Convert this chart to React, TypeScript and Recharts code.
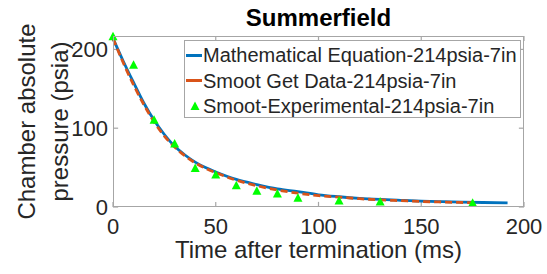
import React from 'react';
import { ComposedChart, Line, Scatter, XAxis, YAxis, Legend, ReferenceLine } from 'recharts';

const mathTime = [0, 5, 10, 15, 20, 25, 30, 35, 40, 45, 50, 60, 70, 80, 90, 100, 110, 120, 130, 140, 150, 160, 170, 180, 192];
const mathPressure = [214, 185, 158, 132, 110, 92, 77, 66, 57, 50, 44.5, 35, 28.5, 23, 19.5, 15.5, 13, 11, 9.6, 8.5, 7.5, 6.8, 6.2, 5.7, 5.2];

const getDataTime = [0, 5, 10, 15, 20, 25, 30, 35, 40, 45, 50, 60, 70, 80, 90, 100, 110, 120, 130, 140, 150, 160, 170, 177];
const getDataPressure = [214, 183, 155, 130, 108, 90, 76, 65, 56, 49, 43.5, 34, 27, 21.5, 17.5, 14.5, 12.5, 10.5, 9, 8, 7, 6.3, 5.7, 5.3];

const expTime = [0, 10, 20, 30, 40, 50, 60, 70, 80, 90, 110, 130, 175];
const expPressure = [216, 180, 110, 80, 49, 40.5, 27, 20, 16.5, 11, 7.6, 6.3, 4.7];

const xTicks = [0, 50, 100, 150, 200];
const yTicks = [0, 100, 200];
const xDomain = [0, 200];
const yDomain = [0, 217];

const seriesNames = [
  'Mathematical Equation-214psia-7in',
  'Smoot Get Data-214psia-7in',
  'Smoot-Experimental-214psia-7in',
];

const mathData = mathTime.map((x, i) => ({ x, y: mathPressure[i] }));
const getData = getDataTime.map((x, i) => ({ x, y: getDataPressure[i] }));
const expData = expTime.map((x, i) => ({ x, y: expPressure[i] }));

const FONT = '"Liberation Sans", Arial, sans-serif';
const TEXT = '#262626';
const AXIS = '#a6a6a6';
const BLUE = '#0072BD';
const ORANGE = '#D95319';
const GREEN = '#00ff00';

const CHART_W = 547;
const CHART_H = 274;
const MARGIN = { top: 36, right: 23, bottom: 0, left: 0 };
const Y_AXIS_W = 113;
const X_AXIS_H = 67;

// inward tick mark lengths, in data units (~5px)
const X_TICK_LEN = 6.5;
const Y_TICK_LEN = 2.5;

const Triangle = (props: any) => {
  const { cx, cy } = props;
  if (cx == null || cy == null) return null;
  return (
    <polygon
      points={`${cx},${cy - 5} ${cx - 4.5},${cy + 3.5} ${cx + 4.5},${cy + 3.5}`}
      fill={GREEN}
    />
  );
};

const LegendBox = () => (
  <div
    style={{
      position: 'relative',
      width: 337,
      height: 78,
      boxSizing: 'border-box',
      border: `1px solid ${AXIS}`,
      background: '#fff',
      fontFamily: FONT,
      fontSize: 20,
      color: TEXT,
    }}
  >
    {seriesNames.map((name, i) => (
      <div
        key={name}
        style={{
          position: 'absolute',
          left: 0,
          top: 1 + i * 25.6,
          height: 26,
          lineHeight: '26px',
          width: '100%',
          whiteSpace: 'nowrap',
        }}
      >
        {i < 2 ? (
          <div
            style={{
              position: 'absolute',
              left: 1,
              top: 11.5,
              width: 16,
              height: 3,
              background: i === 0 ? BLUE : ORANGE,
            }}
          />
        ) : (
          <svg style={{ position: 'absolute', left: 4, top: 7 }} width={12} height={12}>
            <polygon points="6,1.5 1.5,10 10.5,10" fill={GREEN} />
          </svg>
        )}
        <span style={{ position: 'absolute', left: 18, top: 0 }}>{name}</span>
      </div>
    ))}
  </div>
);

const Texts = () => (
  <g fontFamily={FONT}>
    <text x={318.5} y={26} textAnchor="middle" fontWeight="bold" fontSize={24} fill="#000">
      Summerfield
    </text>
    <text x={318.5} y={258} textAnchor="middle" fontSize={24} fill={TEXT}>
      Time after termination (ms)
    </text>
    <text transform="translate(35,121.5) rotate(-90)" textAnchor="middle" fontSize={24} fill={TEXT}>
      Chamber absolute
    </text>
    <text transform="translate(68,121.5) rotate(-90)" textAnchor="middle" fontSize={24} fill={TEXT}>
      pressure (psia)
    </text>
  </g>
);

const tickSegs: { key: string; seg: { x: number; y: number }[] }[] = [];
xTicks.forEach((t) => {
  tickSegs.push({ key: `xb${t}`, seg: [{ x: t, y: yDomain[0] }, { x: t, y: yDomain[0] + X_TICK_LEN }] });
  tickSegs.push({ key: `xt${t}`, seg: [{ x: t, y: yDomain[1] }, { x: t, y: yDomain[1] - X_TICK_LEN }] });
});
yTicks.forEach((t) => {
  tickSegs.push({ key: `yl${t}`, seg: [{ x: xDomain[0], y: t }, { x: xDomain[0] + Y_TICK_LEN, y: t }] });
  tickSegs.push({ key: `yr${t}`, seg: [{ x: xDomain[1], y: t }, { x: xDomain[1] - Y_TICK_LEN, y: t }] });
});

export default function App() {
  const plotLeft = MARGIN.left + Y_AXIS_W;
  const plotTop = MARGIN.top;
  const plotW = CHART_W - plotLeft - MARGIN.right;
  const plotH = CHART_H - plotTop - MARGIN.bottom - X_AXIS_H;
  return (
    <div style={{ position: 'absolute', left: 0, top: 0, width: CHART_W, height: CHART_H, background: '#fff' }}>
      <ComposedChart width={CHART_W} height={CHART_H} margin={MARGIN}>
        {tickSegs.map((t) => (
          <ReferenceLine
            key={t.key}
            segment={t.seg}
            stroke={AXIS}
            strokeWidth={1.2}
            ifOverflow="visible"
          />
        ))}
        <XAxis
          type="number"
          dataKey="x"
          domain={xDomain}
          ticks={xTicks}
          height={X_AXIS_H}
          axisLine={false}
          tickLine={false}
          tickSize={0}
          tickMargin={11}
          tick={{ fill: TEXT, fontSize: 22, fontFamily: FONT }}
        />
        <YAxis
          type="number"
          domain={yDomain}
          ticks={yTicks}
          width={Y_AXIS_W}
          axisLine={false}
          tickLine={false}
          tickSize={0}
          tickMargin={5}
          tick={{ fill: TEXT, fontSize: 22, fontFamily: FONT }}
          label={{ content: <Texts /> }}
        />
        <Legend
          layout="horizontal"
          verticalAlign="middle"
          align="center"
          content={<LegendBox />}
          wrapperStyle={{ position: 'absolute', left: 184, top: 40, width: 337, height: 78 }}
        />
        <Line
          data={mathData}
          dataKey="y"
          type="monotone"
          stroke={BLUE}
          strokeWidth={2.8}
          dot={false}
          isAnimationActive={false}
          name={seriesNames[0]}
        />
        <Line
          data={getData}
          dataKey="y"
          type="monotone"
          stroke={ORANGE}
          strokeWidth={2.8}
          strokeDasharray="7 4"
          dot={false}
          isAnimationActive={false}
          name={seriesNames[1]}
        />
        <Scatter
          data={expData}
          dataKey="y"
          shape={<Triangle />}
          isAnimationActive={false}
          name={seriesNames[2]}
        />
      </ComposedChart>
      <div
        style={{
          position: 'absolute',
          left: plotLeft,
          top: plotTop,
          width: plotW,
          height: plotH,
          boxSizing: 'border-box',
          border: `1px solid ${AXIS}`,
          pointerEvents: 'none',
        }}
      />
    </div>
  );
}
